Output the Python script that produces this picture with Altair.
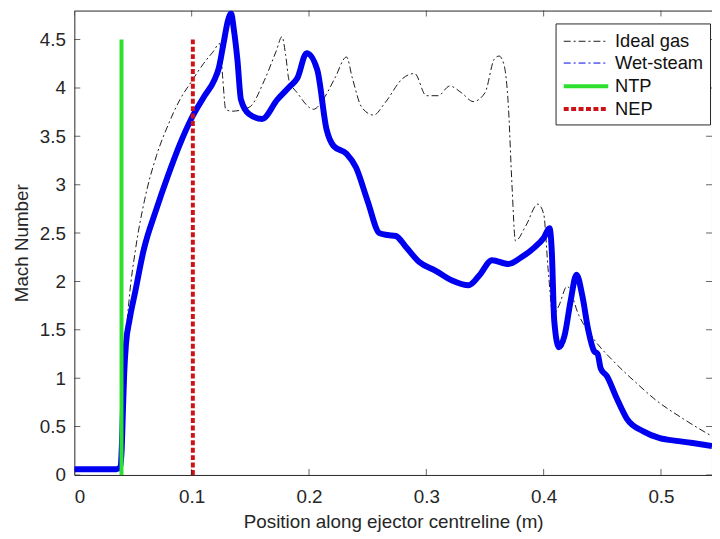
import altair as alt
import pandas as pd

# ---------------- data ----------------
ideal_x = [0, 0.02, 0.038, 0.0405, 0.042, 0.044, 0.047, 0.052, 0.06, 0.07, 0.08, 0.09,
           0.1, 0.11, 0.118, 0.124, 0.1265, 0.129, 0.134, 0.149, 0.162, 0.172, 0.177,
           0.180, 0.183, 0.19, 0.204, 0.212, 0.222, 0.232, 0.237, 0.245, 0.255, 0.265,
           0.28, 0.29, 0.3, 0.31, 0.32, 0.33, 0.34, 0.35, 0.358, 0.362, 0.366, 0.37,
           0.373, 0.376, 0.385, 0.395, 0.4, 0.404, 0.408, 0.413, 0.42, 0.43, 0.443,
           0.46, 0.48, 0.494, 0.519, 0.5435]
ideal_y = [0.06, 0.06, 0.06, 0.3, 0.85, 1.4, 1.85, 2.32, 2.85, 3.3, 3.62, 3.88,
           4.07, 4.25, 4.37, 4.46, 4.1, 3.78, 3.76, 3.80, 4.08, 4.38, 4.53,
           4.35, 4.08, 3.95, 3.78, 3.88, 4.1, 4.32, 4.1, 3.8, 3.72, 3.85,
           4.1, 4.15, 3.92, 3.92, 4.02, 3.95, 3.86, 3.95, 4.3, 4.33, 4.25, 3.8,
           3.0, 2.42, 2.58, 2.8, 2.7, 2.1, 1.65, 1.75, 1.95, 1.65, 1.40,
           1.17, 0.94, 0.79, 0.58, 0.40]

wet_x = [0, 0.02, 0.036, 0.039, 0.0405, 0.0415, 0.0425, 0.044, 0.047, 0.052, 0.059,
         0.07, 0.08, 0.09, 0.1, 0.11, 0.1196, 0.123, 0.127, 0.131, 0.1336, 0.136,
         0.139, 0.142, 0.149, 0.16, 0.173, 0.184, 0.19, 0.198, 0.207, 0.215, 0.221,
         0.232, 0.24, 0.25, 0.26, 0.267, 0.274, 0.283, 0.294, 0.308, 0.322, 0.336,
         0.345, 0.356, 0.370, 0.381, 0.392, 0.400, 0.405, 0.407, 0.409, 0.413,
         0.418, 0.423, 0.428, 0.433, 0.438, 0.443, 0.446, 0.4487, 0.454, 0.462,
         0.471, 0.485, 0.499, 0.515, 0.527, 0.5435]
wet_y = [0.06, 0.06, 0.06, 0.08, 0.3, 0.7, 1.05, 1.35, 1.6, 1.9, 2.32,
         2.75, 3.1, 3.42, 3.69, 3.9, 4.09, 4.2, 4.45, 4.7, 4.77, 4.6,
         4.29, 3.88, 3.73, 3.68, 3.88, 4.02, 4.10, 4.36, 4.19, 3.57, 3.40,
         3.32, 3.18, 2.83, 2.50, 2.48, 2.47, 2.35, 2.20, 2.11, 2.01, 1.96,
         2.06, 2.22, 2.18, 2.25, 2.35, 2.45, 2.55, 2.3, 1.6, 1.32,
         1.45, 1.8, 2.07, 1.85, 1.5, 1.28, 1.25, 1.10, 1.02, 0.80,
         0.58, 0.45, 0.38, 0.35, 0.33, 0.30]

ntp_x = [0.0402, 0.0402]
ntp_y = [0.0, 4.5]
nep_x = [0.101, 0.101]
nep_y = [0.0, 4.5]

x_ticks = [0, 0.1, 0.2, 0.3, 0.4, 0.5]
y_ticks = [0, 0.5, 1, 1.5, 2, 2.5, 3, 3.5, 4, 4.5]
X_MAX = 0.5435
Y_MAX = 4.8

series = ["Ideal gas", "Wet-steam", "NTP", "NEP"]
colors = ["#1a1a1a", "#0000f0", "#2ee02e", "#cc1418"]
dashes = [[7, 3, 2, 3], [7, 3, 2, 3], [1, 0], [5, 2.5]]
widths = [1, 1, 4, 4]

# ---------------- tables ----------------
def table(xs, ys, name):
    return pd.DataFrame({"x": xs, "y": ys, "series": name, "i": range(len(xs))})

curves = pd.concat([table(ideal_x, ideal_y, "Ideal gas"),
                    table(wet_x, wet_y, "Wet-steam")], ignore_index=True)
wet = table(wet_x, wet_y, "Wet-steam")
vlines = pd.concat([table(ntp_x, ntp_y, "NTP"),
                    table(nep_x, nep_y, "NEP")], ignore_index=True)

ticks_v = pd.DataFrame({"x": x_ticks * 2,
                        "y": [0] * len(x_ticks) + [Y_MAX] * len(x_ticks)})
ticks_h = pd.DataFrame({"x": [0] * len(y_ticks) + [X_MAX] * len(y_ticks),
                        "y": y_ticks * 2})

AX = "#262626"
FONT = "Liberation Sans"

xscale = alt.Scale(domain=[0, X_MAX], nice=False, zero=False)
yscale = alt.Scale(domain=[0, Y_MAX], nice=False, zero=False)

xaxis = alt.Axis(values=x_ticks, format=".1~f", title="Position along ejector centreline (m)",
                 ticks=False, tickSize=0, domain=False, grid=False,
                 labelPadding=28, labelBaseline="alphabetic", labelFontSize=19,
                 labelColor=AX, titleFontSize=19, titleFontWeight="normal",
                 titleColor=AX, titleY=53, titleBaseline="alphabetic")
yaxis = alt.Axis(values=y_ticks, format=".1~f", title="Mach Number",
                 ticks=False, tickSize=0, domain=False, grid=False,
                 labelPadding=9, labelFontSize=19, labelColor=AX,
                 titleFontSize=19, titleFontWeight="normal", titleColor=AX,
                 titleX=-47, titleY=234.5, titleBaseline="alphabetic",
                 titleAlign="center")

legend = alt.Legend(orient="none", legendX=486, legendY=13,
                    symbolType="M-1,0L3,0", symbolSize=506,
                    labelFontSize=18.5, labelOffset=27, rowPadding=0,
                    padding=6, strokeColor=AX, fillColor="white", labelColor="#111111",
                    labelFont=FONT)

enc_common = dict(
    color=alt.Color("series:N", title=None, legend=legend,
                    scale=alt.Scale(domain=series, range=colors)),
    strokeDash=alt.StrokeDash("series:N", title=None, legend=legend,
                              scale=alt.Scale(domain=series, range=dashes)),
    strokeWidth=alt.StrokeWidth("series:N", title=None, legend=legend,
                                scale=alt.Scale(type="ordinal", domain=series, range=widths)),
    order=alt.Order("i:Q"),
)

x_enc = alt.X("x:Q", scale=xscale, axis=xaxis)
y_enc = alt.Y("y:Q", scale=yscale, axis=yaxis)

thin = alt.Chart(curves).mark_line(interpolate="monotone", clip=True).encode(
    x=x_enc, y=y_enc, **enc_common)

thick = alt.Chart(wet).mark_line(interpolate="monotone", clip=True, color="#0000f0",
                                 strokeWidth=6).encode(
    x="x:Q", y="y:Q", order="i:Q")

verts = alt.Chart(vlines).mark_line(clip=True).encode(
    x="x:Q", y="y:Q", **enc_common)

tv = alt.Chart(ticks_v).mark_tick(orient="vertical", size=12, thickness=1,
                                  color=AX, clip=True).encode(x="x:Q", y="y:Q")
th = alt.Chart(ticks_h).mark_tick(orient="horizontal", size=12, thickness=1,
                                  color=AX, clip=True).encode(x="x:Q", y="y:Q")

chart = alt.layer(thin, thick, verts, tv, th).properties(
    width=644, height=469, autosize="none",
    padding={"left": 67, "top": 0, "right": 0, "bottom": 55},
).configure(font=FONT).configure_view(stroke=AX, strokeWidth=1)

chart.save("out.html", embed_options={"renderer": "svg", "actions": False})
